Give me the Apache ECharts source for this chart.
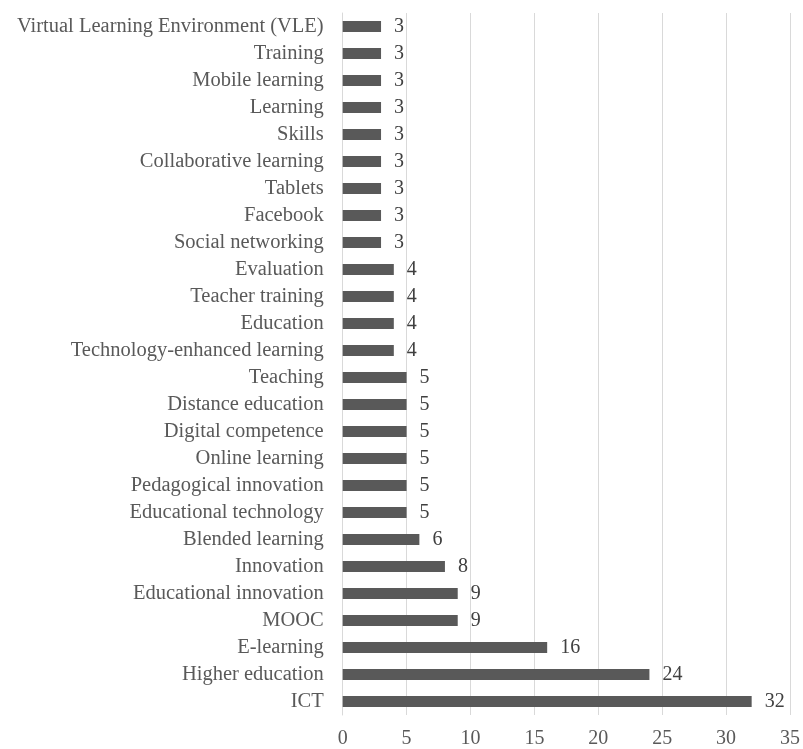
<!DOCTYPE html>
<html><head><meta charset="utf-8">
<script src="https://cdn.jsdelivr.net/npm/echarts@6/dist/echarts.min.js"></script>
<style>html,body{margin:0;padding:0;background:#fff}#c{width:803px;height:749px}</style>
</head><body><div id="c"></div>
<script>
const categories = ["ICT","Higher education","E-learning","MOOC","Educational innovation","Innovation","Blended learning","Educational technology","Pedagogical innovation","Online learning","Digital competence","Distance education","Teaching","Technology-enhanced learning","Education","Teacher training","Evaluation","Social networking","Facebook","Tablets","Collaborative learning","Skills","Learning","Mobile learning","Training","Virtual Learning Environment (VLE)"];
const values = [32,24,16,9,9,8,6,5,5,5,5,5,5,4,4,4,4,3,3,3,3,3,3,3,3,3];
const xTicks = {min:0, max:35, interval:5};
const font = "'Liberation Serif', 'DejaVu Serif', serif";
const chart = echarts.init(document.getElementById('c'));
chart.setOption({
  animation:false,
  grid:{left:342.7, right:10, top:13, bottom:33, containLabel:false},
  xAxis:{type:'value', min:xTicks.min, max:xTicks.max, interval:xTicks.interval,
    axisLine:{show:false}, axisTick:{show:false},
    splitLine:{lineStyle:{color:'#d9d9d9', width:1}},
    axisLabel:{fontFamily:font, fontSize:20, color:'#595959', margin:14}},
  yAxis:{type:'category', data:categories,
    axisLine:{show:true, lineStyle:{color:'#d9d9d9'}}, axisTick:{show:false},
    axisLabel:{interval:0, fontFamily:font, fontSize:20.5, color:'#595959', margin:19}},
  series:[{type:'bar', data:values, barWidth:11,
    itemStyle:{color:'#595959'},
    label:{show:true, position:'right', distance:13, fontFamily:font, fontSize:20, color:'#404040'}}]
});
</script></body></html>
